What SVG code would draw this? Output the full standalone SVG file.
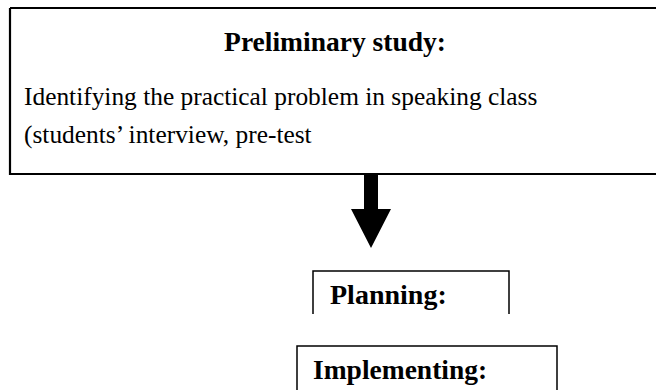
<svg xmlns="http://www.w3.org/2000/svg" width="656" height="390" viewBox="0 0 656 390">
<style>
.t{font-family:"Liberation Serif","Times New Roman",serif;fill:#000}
.b{font-weight:bold}
.box{fill:none;stroke:#000}
</style>
<rect width="656" height="390" fill="#fff"/>
<g id="preliminary">
<path class="box" d="M10,8 H660 M10,8 V174 H660" stroke-width="2.2"/>
<text class="t b" x="335" y="51" font-size="27.5" text-anchor="middle">Preliminary study:</text>
<text class="t" x="24" y="105" font-size="25.4">Identifying the practical problem in speaking class</text>
<text class="t" x="24" y="143" font-size="25.4">(students’ interview, pre-test</text>
</g>
<g id="connectors">
<polygon points="364,175 378,175 378,209 391,209 371,248 351,209 364,209" fill="#000"/>
</g>
<g id="planning">
<path class="box" d="M313,314 V271 H509 V314" stroke-width="1.5"/>
<text class="t b" x="330" y="304" font-size="28">Planning:</text>
</g>
<g id="implementing">
<path class="box" d="M297,392 V346 H557 V392" stroke-width="1.5"/>
<text class="t b" x="313" y="379" font-size="27.5">Implementing:</text>
</g>
</svg>
